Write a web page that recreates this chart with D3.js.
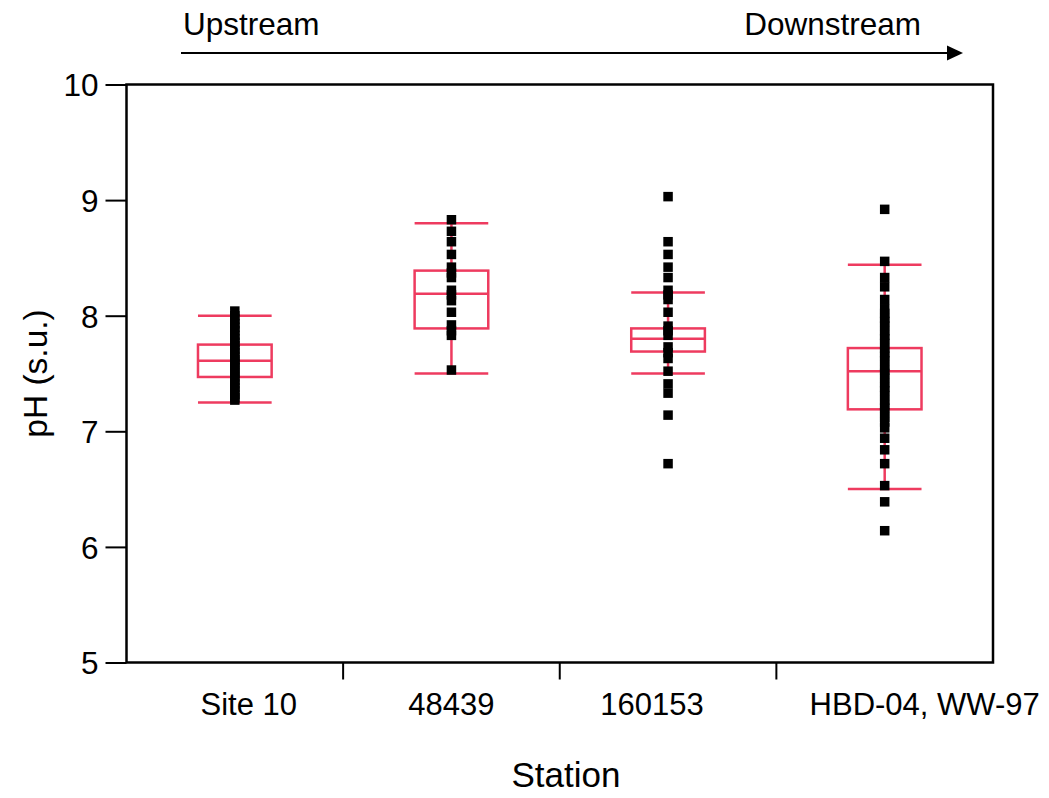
<!DOCTYPE html>
<html><head><meta charset="utf-8">
<script src="https://cdn.jsdelivr.net/npm/d3@7"></script>
<style>
html,body{margin:0;padding:0;background:#fff;}
svg{display:block;font-family:"Liberation Sans",Arial,sans-serif;}
</style></head>
<body>
<svg id="chart" width="1049" height="798"></svg>
<script>
const categories = ["Site 10", "48439", "160153", "HBD-04, WW-97"];
const yTicks = [5, 6, 7, 8, 9, 10];

const whiskerLow  = [7.25, 7.50, 7.50, 6.50];
const q1          = [7.47, 7.89, 7.69, 7.19];
const median      = [7.61, 8.19, 7.80, 7.52];
const q3          = [7.75, 8.39, 7.89, 7.72];
const whiskerHigh = [8.00, 8.80, 8.20, 8.44];

const pointsSite10 = [8.04, 8.00, 7.97, 7.93, 7.90, 7.87, 7.83, 7.80, 7.77, 7.74, 7.71, 7.68, 7.65, 7.62,
  7.60, 7.58, 7.55, 7.52, 7.50, 7.47, 7.44, 7.41, 7.38, 7.35, 7.32, 7.29, 7.27];
const points48439 = [8.83, 8.73, 8.64, 8.53, 8.42, 8.37, 8.33, 8.22, 8.18, 8.13, 8.03, 7.92, 7.87, 7.83, 7.53];
const points160153 = [9.03, 8.64, 8.53, 8.42, 8.33, 8.22, 8.18, 8.14, 8.03, 7.91, 7.87, 7.83, 7.73, 7.68,
  7.63, 7.52, 7.41, 7.33, 7.14, 6.72];
const pointsHBD = [8.92, 8.47, 8.33, 8.25, 8.14, 8.06, 8.02, 7.98, 7.95, 7.91, 7.87, 7.83, 7.80, 7.76, 7.72,
  7.68, 7.65, 7.61, 7.57, 7.53, 7.50, 7.46, 7.42, 7.38, 7.35, 7.31, 7.27, 7.23, 7.20, 7.16, 7.12, 7.08,
  7.03, 6.94, 6.84, 6.72, 6.53, 6.39, 6.14];
const pointSeries = [pointsSite10, points48439, points160153, pointsHBD];

const svg = d3.select("#chart");
const L = 126.5, R = 993, T = 84.5, B = 662.5;
const boxColor = "#EE3B5F";

const x = d3.scaleBand().domain(categories).range([L, R]).paddingInner(0.66).paddingOuter(0.33);
const y = d3.scaleLinear().domain([5, 10]).range([B, T]);
const cx = c => x(c) + x.bandwidth() / 2;

// top direction arrow
svg.append("line").attr("x1", 181).attr("x2", 950).attr("y1", 53).attr("y2", 53)
  .attr("stroke", "#000").attr("stroke-width", 2);
svg.append("path").attr("d", "M947,45.5 L963,53 L947,60.5 Z").attr("fill", "#000");
svg.append("text").attr("x", 183).attr("y", 35).attr("font-size", 31.5).text("Upstream");
svg.append("text").attr("x", 921).attr("y", 35).attr("font-size", 31.5).attr("text-anchor", "end").text("Downstream");

// boxes
const g = svg.append("g");
categories.forEach((c, i) => {
  const xc = cx(c), x0 = x(c), x1 = x(c) + x.bandwidth();
  // whisker stems
  g.append("line").attr("x1", xc).attr("x2", xc).attr("y1", y(whiskerHigh[i])).attr("y2", y(q3[i]))
    .attr("stroke", boxColor).attr("stroke-width", 2.5);
  g.append("line").attr("x1", xc).attr("x2", xc).attr("y1", y(q1[i])).attr("y2", y(whiskerLow[i]))
    .attr("stroke", boxColor).attr("stroke-width", 2.5);
  // caps
  [whiskerHigh[i], whiskerLow[i]].forEach(v => {
    g.append("line").attr("x1", x0).attr("x2", x1).attr("y1", y(v)).attr("y2", y(v))
      .attr("stroke", boxColor).attr("stroke-width", 2.5);
  });
  g.append("rect").attr("x", x0).attr("width", x.bandwidth())
    .attr("y", y(q3[i])).attr("height", y(q1[i]) - y(q3[i]))
    .attr("fill", "none").attr("stroke", boxColor).attr("stroke-width", 2.5);
  g.append("line").attr("x1", x0).attr("x2", x1).attr("y1", y(median[i])).attr("y2", y(median[i]))
    .attr("stroke", boxColor).attr("stroke-width", 2.5);
});

// points
const ps = 9.5;
categories.forEach((c, i) => {
  g.selectAll(null).data(pointSeries[i]).enter().append("rect")
    .attr("x", cx(c) - ps / 2).attr("y", d => y(d) - ps / 2)
    .attr("width", ps).attr("height", ps).attr("fill", "#000");
});

// frame
svg.append("rect").attr("x", L).attr("y", T).attr("width", R - L).attr("height", B - T)
  .attr("fill", "none").attr("stroke", "#000").attr("stroke-width", 2.5);

// y axis
const ya = svg.append("g").attr("transform", `translate(${L},0)`)
  .call(d3.axisLeft(y).tickValues(yTicks).tickSize(21).tickPadding(7).tickFormat(d3.format("d")));
ya.select(".domain").remove();
ya.selectAll(".tick line").attr("stroke", "#000").attr("stroke-width", 2);
ya.selectAll(".tick text").attr("font-size", 31.5).attr("fill", "#000")
  .attr("font-family", "'Liberation Sans', Arial, sans-serif").attr("dy", "0.36em");

// x separators
for (let i = 0; i < categories.length - 1; i++) {
  const bx = (x(categories[i]) + x.bandwidth() + x(categories[i + 1])) / 2;
  svg.append("line").attr("x1", bx).attr("x2", bx).attr("y1", B).attr("y2", B + 17)
    .attr("stroke", "#000").attr("stroke-width", 2);
}
// x labels
const labelDx = [14, 0, -16, 40];
categories.forEach((c, i) => {
  svg.append("text").attr("x", cx(c) + labelDx[i]).attr("y", 715).attr("text-anchor", "middle")
    .attr("font-size", 31).text(c);
});

// axis titles
svg.append("text").attr("x", 566).attr("y", 787).attr("text-anchor", "middle").attr("font-size", 35).text("Station");
svg.append("text").attr("transform", `translate(47,${(T + B) / 2}) rotate(-90)`)
  .attr("text-anchor", "middle").attr("font-size", 33.5).text("pH (s.u.)");
</script>
</body></html>
